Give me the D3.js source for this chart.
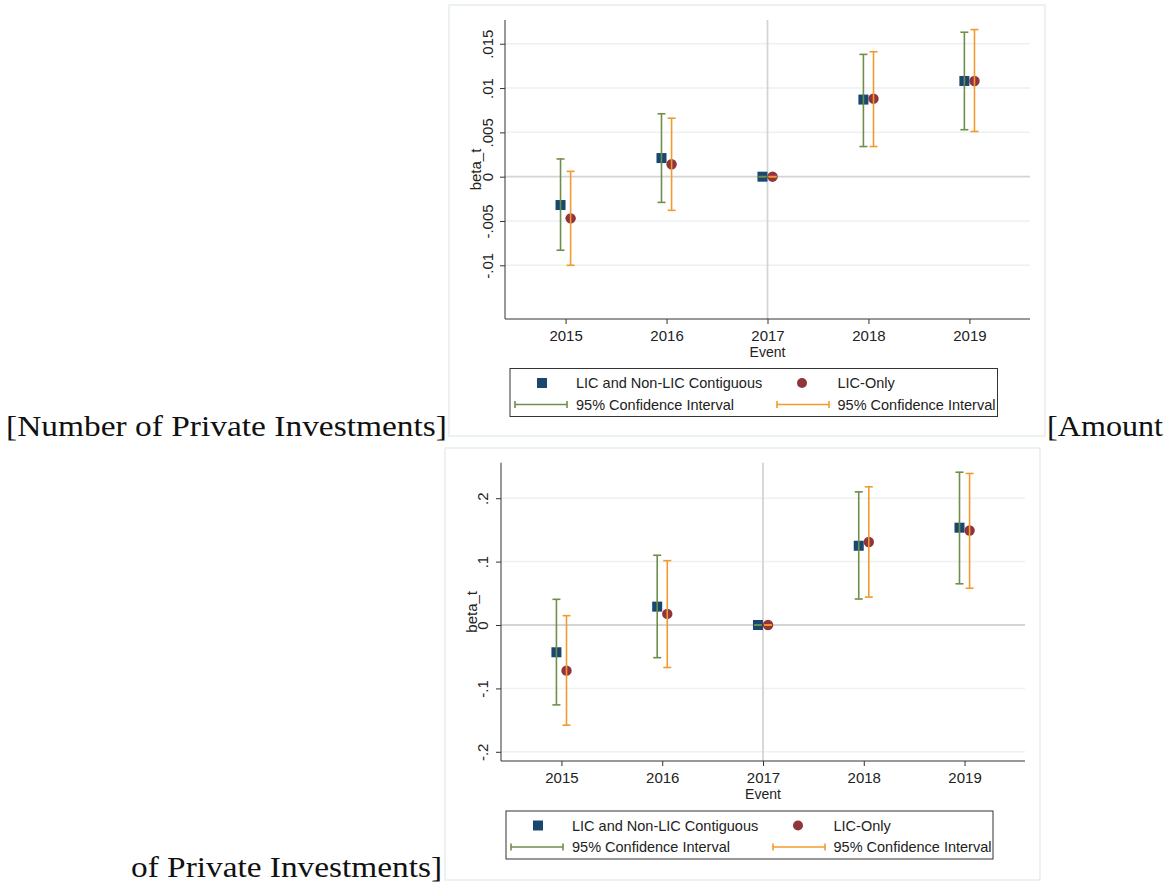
<!DOCTYPE html>
<html>
<head>
<meta charset="utf-8">
<script src="https://cdn.jsdelivr.net/npm/d3@7"></script>
<style>
  body { margin: 0; background: #fff; }
  svg { display: block; }
</style>
</head>
<body>
<svg id="page" width="1172" height="888"></svg>
<script>
// ---- data ----
const years = [2015, 2016, 2017, 2018, 2019];

// panel 1: number of private investments
const countPooled   = [-0.0032, 0.0021, 0, 0.0087, 0.0108];
const countPooledLo = [-0.0083, -0.0029, 0, 0.0034, 0.0053];
const countPooledHi = [0.0020, 0.0071, 0, 0.0138, 0.0163];
const countLic      = [-0.0047, 0.0014, 0, 0.0088, 0.0108];
const countLicLo    = [-0.0100, -0.0038, 0, 0.0034, 0.0051];
const countLicHi    = [0.0006, 0.0066, 0, 0.0141, 0.0166];
const countTicks    = [-0.01, -0.005, 0, 0.005, 0.01, 0.015];
const countTickLabels = ["-.01", "-.005", "0", ".005", ".01", ".015"];

// panel 2: amount of private investments
const amountPooled   = [-0.043, 0.029, 0, 0.125, 0.1535];
const amountPooledLo = [-0.126, -0.0515, 0, 0.041, 0.065];
const amountPooledHi = [0.0405, 0.110, 0, 0.210, 0.241];
const amountLic      = [-0.072, 0.0175, 0, 0.131, 0.149];
const amountLicLo    = [-0.158, -0.067, 0, 0.044, 0.058];
const amountLicHi    = [0.0147, 0.1015, 0, 0.218, 0.239];
const amountTicks    = [-0.2, -0.1, 0, 0.1, 0.2];
const amountTickLabels = ["-.2", "-.1", "0", ".1", ".2"];

const legendLabels = ["LIC and Non-LIC Contiguous", "LIC-Only", "95% Confidence Interval", "95% Confidence Interval"];

const C = {
    navy: "#1a476f", maroon: "#90353b",
    green: "#6d8f4a", orange: "#f29a2e",
    grid: "#eaf2f3", frame: "#e6eeef", axis: "#333"
};
const sans = "'Liberation Sans', Arial, sans-serif";
const serif = "'Liberation Serif', 'DejaVu Serif', serif";

const svg = d3.select("#page");

function drawPanel(p) {
    const g = svg.append("g");

    // outer graph frame
    g.append("rect")
        .attr("x", p.frame[0]).attr("y", p.frame[1])
        .attr("width", p.frame[2] - p.frame[0]).attr("height", p.frame[3] - p.frame[1])
        .attr("fill", "none").attr("stroke", C.frame).attr("stroke-width", 1.5);

    const x = d3.scaleLinear().domain([2014.4, 2019.6]).range([p.left, p.right]);
    const y = d3.scaleLinear().domain(p.yDomain).range([p.bottom, p.top]);

    // grid lines
    g.selectAll(".grid").data(p.ticks.filter(t => t !== 0)).join("line")
        .attr("x1", p.left).attr("x2", p.right)
        .attr("y1", d => y(d)).attr("y2", d => y(d))
        .attr("stroke", C.grid).attr("stroke-width", 1.5);

    // reference lines
    g.append("line")
        .attr("x1", p.left).attr("x2", p.right)
        .attr("y1", y(0)).attr("y2", y(0))
        .attr("stroke", "#d4d4d4").attr("stroke-width", 1.8);
    g.append("line")
        .attr("x1", x(2017)).attr("x2", x(2017))
        .attr("y1", p.top).attr("y2", p.bottom)
        .attr("stroke", "#d4d4d4").attr("stroke-width", 1.8);

    // axes
    const yAxis = d3.axisLeft(y).tickValues(p.ticks)
        .tickFormat((d, i) => p.tickLabels[i]).tickSize(5).tickSizeOuter(0);
    const ya = g.append("g").attr("transform", `translate(${p.left},0)`).call(yAxis);
    ya.select(".domain").attr("d", `M0,${p.top}V${p.bottom}`).attr("stroke", C.axis);
    ya.selectAll(".tick line").attr("stroke", C.axis);
    ya.selectAll(".tick text")
        .attr("font-family", sans).attr("font-size", 15).attr("fill", "#222")
        .attr("text-anchor", "middle")
        .attr("transform", "rotate(-90)")
        .attr("x", 0).attr("y", -p.labelOff).attr("dy", "0.32em");

    const xAxis = d3.axisBottom(x).tickValues(years).tickFormat(d3.format("d"))
        .tickSize(5).tickSizeOuter(0);
    const xa = g.append("g").attr("transform", `translate(0,${p.bottom})`).call(xAxis);
    xa.select(".domain").attr("d", `M${p.left},0H${p.right}`).attr("stroke", C.axis);
    xa.selectAll(".tick line").attr("stroke", C.axis);
    xa.selectAll(".tick text")
        .attr("font-family", sans).attr("font-size", 15).attr("fill", "#222")
        .attr("y", 11);

    g.append("text")
        .attr("x", x(2017)).attr("y", p.bottom + 38)
        .attr("text-anchor", "middle")
        .attr("font-family", sans).attr("font-size", 14).attr("fill", "#222")
        .text("Event");
    g.append("text")
        .attr("transform", `translate(${p.left - 24},${(p.top + p.bottom) / 2}) rotate(-90)`)
        .attr("text-anchor", "middle")
        .attr("font-family", sans).attr("font-size", 15).attr("fill", "#222")
        .text("beta_t");

    // series: markers first, CIs on top
    const series = [
        { est: p.pooled, lo: p.pooledLo, hi: p.pooledHi, dx: -0.05, color: C.green, shape: "square", fill: C.navy },
        { est: p.lic, lo: p.licLo, hi: p.licHi, dx: 0.05, color: C.orange, shape: "circle", fill: C.maroon }
    ];
    series.forEach(s => {
        const rows = years.map((yr, i) => ({ x: x(yr + s.dx), est: s.est[i], lo: s.lo[i], hi: s.hi[i] }));
        if (s.shape === "square") {
            g.selectAll(null).data(rows).join("rect")
                .attr("x", d => d.x - 5).attr("y", d => y(d.est) - 5)
                .attr("width", 10).attr("height", 10)
                .attr("fill", s.fill);
        } else {
            g.selectAll(null).data(rows).join("circle")
                .attr("cx", d => d.x).attr("cy", d => y(d.est)).attr("r", 5.2)
                .attr("fill", s.fill);
        }
        const ci = g.selectAll(null).data(rows).join("g")
            .attr("stroke", s.color).attr("stroke-width", 1.6);
        ci.append("line")
            .attr("x1", d => d.x).attr("x2", d => d.x)
            .attr("y1", d => y(d.lo)).attr("y2", d => y(d.hi));
        ci.append("line")
            .attr("x1", d => d.x - 4).attr("x2", d => d.x + 4)
            .attr("y1", d => y(d.lo)).attr("y2", d => y(d.lo));
        ci.append("line")
            .attr("x1", d => d.x - 4).attr("x2", d => d.x + 4)
            .attr("y1", d => y(d.hi)).attr("y2", d => y(d.hi));
    });

    // legend
    const L = p.legend;
    g.append("rect")
        .attr("x", L.x0).attr("y", L.y0)
        .attr("width", L.x1 - L.x0).attr("height", L.y1 - L.y0)
        .attr("fill", "#fff").attr("stroke", "#333").attr("stroke-width", 1);
    const r1 = L.y0 + 14.5, r2 = L.y0 + 36;
    const txt = (tx, ty, s) => g.append("text")
        .attr("x", tx).attr("y", ty).attr("dy", "0.35em")
        .attr("font-family", sans).attr("font-size", 14.5).attr("fill", "#222").text(s);
    g.append("rect").attr("x", L.x0 + 27).attr("y", r1 - 5).attr("width", 10).attr("height", 10).attr("fill", C.navy);
    txt(L.x0 + 66, r1, legendLabels[0]);
    g.append("circle").attr("cx", L.x0 + 292).attr("cy", r1).attr("r", 5).attr("fill", C.maroon);
    txt(L.x0 + 327.5, r1, legendLabels[1]);
    const key = (xa0, xa1, col) => {
        const k = g.append("g").attr("stroke", col).attr("stroke-width", 1.6);
        k.append("line").attr("x1", xa0).attr("x2", xa1).attr("y1", r2).attr("y2", r2);
        k.append("line").attr("x1", xa0).attr("x2", xa0).attr("y1", r2 - 3.5).attr("y2", r2 + 3.5);
        k.append("line").attr("x1", xa1).attr("x2", xa1).attr("y1", r2 - 3.5).attr("y2", r2 + 3.5);
    };
    key(L.x0 + 5, L.x0 + 57, C.green);
    txt(L.x0 + 66, r2, legendLabels[2]);
    key(L.x0 + 267, L.x0 + 319, C.orange);
    txt(L.x0 + 327.5, r2, legendLabels[3]);
}

drawPanel({
    frame: [449, 5, 1045, 436],
    left: 505, right: 1030, top: 20, bottom: 319,
    yDomain: [-0.01606, 0.01768], labelOff: 17,
    ticks: countTicks, tickLabels: countTickLabels,
    pooled: countPooled, pooledLo: countPooledLo, pooledHi: countPooledHi,
    lic: countLic, licLo: countLicLo, licHi: countLicHi,
    legend: { x0: 510, y0: 368.5, x1: 997.5, y1: 416.5 }
});

drawPanel({
    frame: [445, 448, 1040, 880],
    left: 501, right: 1025, top: 462.7, bottom: 761,
    yDomain: [-0.2145, 0.256], labelOff: 18,
    ticks: amountTicks, tickLabels: amountTickLabels,
    pooled: amountPooled, pooledLo: amountPooledLo, pooledHi: amountPooledHi,
    lic: amountLic, licLo: amountLicLo, licHi: amountLicHi,
    legend: { x0: 506, y0: 811, x1: 993, y1: 859 }
});

// surrounding document text (sub-figure captions)
const cap = (tx, ty, s, len) => svg.append("text")
    .attr("x", tx).attr("y", ty)
    .attr("font-family", serif).attr("font-size", 29).attr("fill", "#111")
    .attr("textLength", len).attr("lengthAdjust", "spacingAndGlyphs")
    .text(s);
cap(6, 436, "[Number of Private Investments]", 441);
cap(1047, 436, "[Amount", 116);
cap(131, 877, "of Private Investments]", 311);
</script>
</body>
</html>
